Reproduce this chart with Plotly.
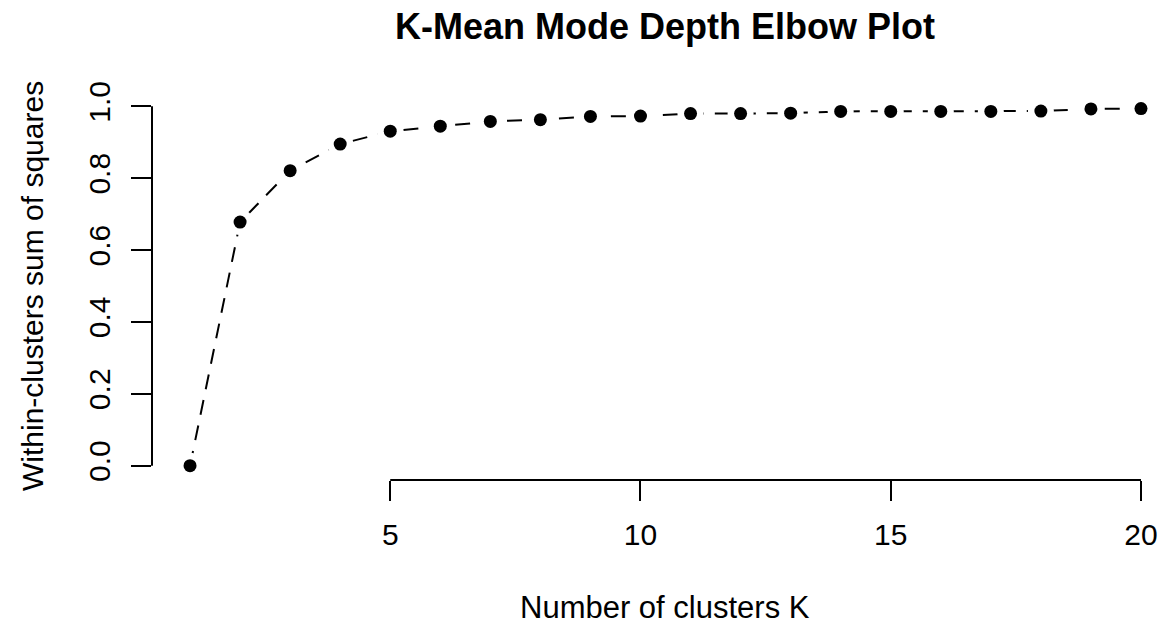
import plotly.graph_objects as go

# Data
k_values = list(range(1, 21))
wss_ratio = [0.000, 0.678, 0.821, 0.895, 0.931, 0.945, 0.958, 0.963, 0.972, 0.973,
             0.980, 0.980, 0.981, 0.986, 0.986, 0.986, 0.986, 0.987, 0.993, 0.994]
x_ticks = [5, 10, 15, 20]
y_ticks = [0.0, 0.2, 0.4, 0.6, 0.8, 1.0]
y_tick_labels = ["0.0", "0.2", "0.4", "0.6", "0.8", "1.0"]

title_text = "K-Mean Mode Depth Elbow Plot"
x_label = "Number of clusters K"
y_label = "Within-clusters sum of squares"

FONT = "Liberation Sans, Arial, Helvetica, sans-serif"

fig = go.Figure()
# dashed connecting line
fig.add_trace(go.Scatter(
    x=k_values, y=wss_ratio, mode="lines",
    line=dict(color="black", width=2, dash="15px,11px"),
    hoverinfo="skip", showlegend=False))
# white halo to make gaps around points (R type="b")
fig.add_trace(go.Scatter(
    x=k_values, y=wss_ratio, mode="markers",
    marker=dict(color="white", size=26, line=dict(width=0)),
    hoverinfo="skip", showlegend=False))
# points
fig.add_trace(go.Scatter(
    x=k_values, y=wss_ratio, mode="markers",
    marker=dict(color="black", size=13, line=dict(width=0)),
    showlegend=False))

W, H = 1164, 627
ml, mr, mt, mb = 152, 0, 92, 147
pw, ph = W - ml - mr, H - mt - mb

fig.update_layout(
    width=W, height=H,
    margin=dict(l=ml, r=mr, t=mt, b=mb, pad=0),
    paper_bgcolor="white", plot_bgcolor="white",
    font=dict(family=FONT, size=30, color="black"),
    xaxis=dict(range=[0.24, 20.46], tickvals=x_ticks, ticks="outside", ticklen=20,
               tickwidth=2, tickcolor="black", showgrid=False, zeroline=False,
               showline=False, ticklabelstandoff=8,
               tickfont=dict(family=FONT, size=30, color="black")),
    yaxis=dict(range=[-0.04, 1.04], tickvals=y_ticks, ticktext=y_tick_labels,
               ticks="outside", ticklen=20, tickwidth=2, tickcolor="black",
               showgrid=False, zeroline=False, showline=False, tickangle=-90,
               ticklabelstandoff=9,
               tickfont=dict(family=FONT, size=30, color="black")),
)

# R-style axis lines spanning first to last tick
fig.add_shape(type="line", xref="x", yref="paper", x0=x_ticks[0], x1=x_ticks[-1],
              y0=0, y1=0, line=dict(color="black", width=2))
fig.add_shape(type="line", xref="paper", yref="y", x0=0, x1=0,
              y0=y_ticks[0], y1=y_ticks[-1], line=dict(color="black", width=2))

cx = (665 - ml) / pw
fig.add_annotation(text="<b>" + title_text + "</b>", xref="paper", yref="paper",
                   x=cx, y=1 + (mt - 27) / ph, xanchor="center", yanchor="middle",
                   showarrow=False, font=dict(family=FONT, size=36, color="black"))
fig.add_annotation(text=x_label, xref="paper", yref="paper",
                   x=cx, y=-(607 - (H - mb)) / ph, xanchor="center", yanchor="middle",
                   showarrow=False, font=dict(family=FONT, size=31, color="black"))
fig.add_annotation(text=y_label, xref="paper", yref="paper", textangle=-90,
                   x=(32 - ml) / pw, y=((H - mb) - 286) / ph, xanchor="center",
                   yanchor="middle", showarrow=False,
                   font=dict(family=FONT, size=30, color="black"))

fig.write_html("out.html", config={"displayModeBar": False},
               post_script="document.body.style.margin='0px';"
                           "document.body.style.overflow='hidden';")
